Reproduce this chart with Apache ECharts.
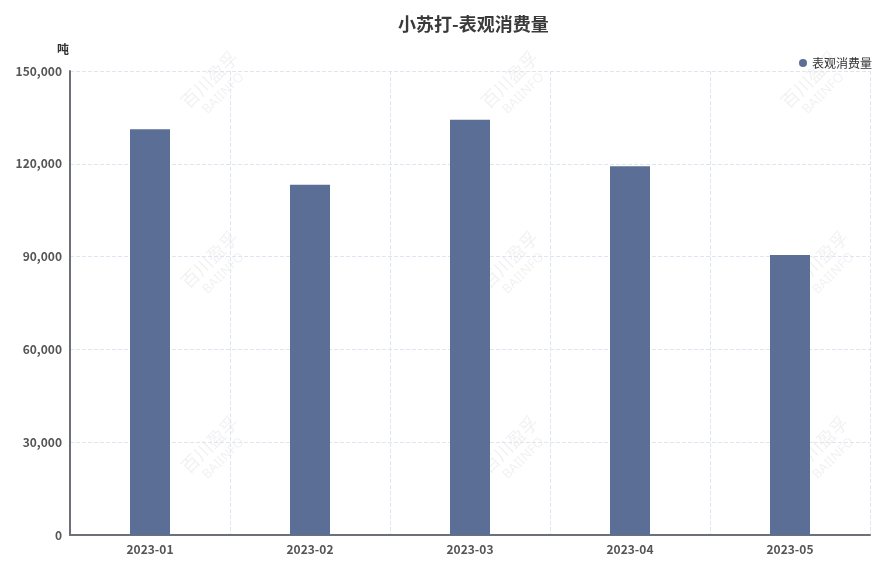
<!DOCTYPE html>
<html><head><meta charset="utf-8">
<script src="https://cdn.jsdelivr.net/npm/echarts@6/dist/echarts.min.js"></script>
<style>html,body{margin:0;padding:0;background:#fff}#c{width:895px;height:574px}</style>
</head><body><div id="c"></div>
<script>
var categories = ['2023-01','2023-02','2023-03','2023-04','2023-05'];
var consumption = [131200, 113200, 134200, 119200, 90500];
var seriesName = '表观消费量';

var wmPos = [[215,85],[515,85],[815,85],[215,265],[515,265],[825,265],[215,450],[515,450],[825,450]];
var graphics = wmPos.map(function(p){
  return {type:'group', x:p[0], y:p[1], rotation:Math.PI/4, silent:true, z:100, children:[
    {type:'text', style:{text:'百川盈孚', x:0, y:-8, align:'center', verticalAlign:'middle', font:'18px "Noto Sans CJK SC"', fill:'rgba(0,0,0,0.06)'}},
    {type:'text', style:{text:'BAIINFO', x:0, y:12, align:'center', verticalAlign:'middle', font:'13px "Noto Sans"', fill:'rgba(0,0,0,0.06)'}}
  ]};
});

var labelFont = '"Noto Sans CJK SC", "Noto Sans", sans-serif';
var chart = echarts.init(document.getElementById('c'));
chart.setOption({
  animation:false,
  title:{text:'小苏打-表观消费量', left:393, top:10, textStyle:{fontSize:18, fontWeight:'bold', color:'#3a3a3a', fontFamily:labelFont}},
  legend:{right:18, top:52, icon:'circle', itemWidth:8, itemHeight:8, itemGap:5, textStyle:{fontSize:12, color:'#333', fontFamily:labelFont}},
  grid:{left:70, right:25, top:71, bottom:39},
  xAxis:{type:'category', data:categories,
    axisLine:{lineStyle:{color:'#6E7079', width:2}},
    axisTick:{show:false},
    axisLabel:{fontWeight:'bold', color:'#555', fontSize:12, margin:8, fontFamily:labelFont},
    splitLine:{show:true, lineStyle:{type:'dashed', color:'#E0E6F1'}}},
  yAxis:{type:'value', min:0, max:150000, interval:30000, name:'吨',
    nameTextStyle:{color:'#333', fontWeight:'bold', fontSize:12, padding:[0,1,0,0], align:'right', fontFamily:labelFont},
    nameGap:16,
    axisLine:{show:true, lineStyle:{color:'#6E7079', width:2}},
    axisLabel:{fontWeight:'bold', color:'#555', fontSize:12, fontFamily:labelFont, formatter:function(v){return v.toLocaleString('en-US');}},
    splitLine:{lineStyle:{type:'dashed', color:'#E0E6F1'}}},
  series:[{name:seriesName, type:'bar', data:consumption, barWidth:'25%', itemStyle:{color:'#5B6E96'}}],
  graphic:graphics
});
</script></body></html>
